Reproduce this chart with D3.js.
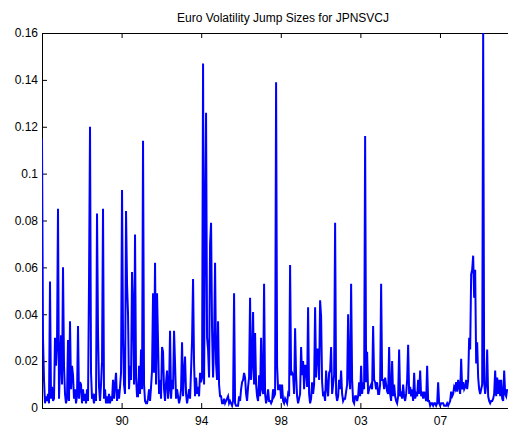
<!DOCTYPE html>
<html>
<head>
<meta charset="utf-8">
<script src="https://cdn.jsdelivr.net/npm/d3@7"></script>
<style>
  body { margin: 0; background: #fff; }
  text { font-family: "Liberation Sans", Arial, sans-serif; }
</style>
</head>
<body>
<div id="chart-area"></div>
<script>
/*
*    jump sizes chart
*/

// series: one value every ~0.0553 years, starting at startYear
var startYear = 1985.6;
var stepYears = 0.0553;
var jumpSizes = [
    0.115, 0.030, 0.012, 0.002, 0.005, 0.003, 0.006, 0.002, 0.054, 0.004,
    0.009, 0.003, 0.004, 0.030, 0.018, 0.027, 0.085, 0.004, 0.018, 0.031,
    0.010, 0.060, 0.018, 0.006, 0.002, 0.004, 0.029, 0.003, 0.037, 0.008,
    0.018, 0.014, 0.004, 0.008, 0.002, 0.005, 0.035, 0.004, 0.011, 0.010,
    0.002, 0.008, 0.003, 0.006, 0.002, 0.008, 0.003, 0.054, 0.120, 0.015,
    0.004, 0.005, 0.002, 0.006, 0.003, 0.083, 0.032, 0.009, 0.003, 0.010,
    0.020, 0.085, 0.004, 0.008, 0.002, 0.005, 0.002, 0.006, 0.002, 0.005,
    0.003, 0.012, 0.004, 0.010, 0.015, 0.003, 0.008, 0.004, 0.009, 0.015,
    0.093, 0.030, 0.010, 0.006, 0.084, 0.053, 0.040, 0.008, 0.018, 0.012,
    0.058, 0.042, 0.010, 0.074, 0.013, 0.005, 0.005, 0.018, 0.006, 0.025,
    0.008, 0.114, 0.010, 0.003, 0.002, 0.002, 0.004, 0.008, 0.003, 0.009,
    0.016, 0.049, 0.015, 0.062, 0.010, 0.049, 0.028, 0.006, 0.012, 0.004,
    0.026, 0.024, 0.008, 0.003, 0.011, 0.016, 0.004, 0.008, 0.033, 0.004,
    0.012, 0.008, 0.033, 0.019, 0.004, 0.008, 0.005, 0.002, 0.004, 0.008,
    0.028, 0.005, 0.015, 0.022, 0.006, 0.002, 0.005, 0.008, 0.004, 0.016,
    0.029, 0.055, 0.019, 0.005, 0.013, 0.006, 0.009, 0.005, 0.015, 0.011,
    0.013, 0.147, 0.010, 0.077, 0.126, 0.030, 0.025, 0.013, 0.070, 0.079,
    0.033, 0.013, 0.028, 0.062, 0.019, 0.012, 0.037, 0.010, 0.005, 0.005,
    0.002, 0.002, 0.004, 0.002, 0.003, 0.004, 0.005, 0.002, 0.003, 0.002,
    0.001, 0.003, 0.049, 0.002, 0.001, 0.001, 0.001, 0.005, 0.003, 0.008,
    0.011, 0.012, 0.015, 0.013, 0.006, 0.003, 0.009, 0.013, 0.047, 0.012,
    0.019, 0.041, 0.010, 0.032, 0.010, 0.005, 0.003, 0.014, 0.005, 0.030,
    0.008, 0.006, 0.053, 0.006, 0.002, 0.004, 0.008, 0.003, 0.003, 0.002,
    0.003, 0.008, 0.005, 0.006, 0.139, 0.018, 0.008, 0.008, 0.010, 0.004,
    0.010, 0.003, 0.002, 0.004, 0.003, 0.002, 0.006, 0.005, 0.061, 0.014,
    0.015, 0.014, 0.006, 0.034, 0.014, 0.005, 0.002, 0.004, 0.006, 0.026,
    0.014, 0.020, 0.008, 0.018, 0.018, 0.009, 0.043, 0.006, 0.002, 0.004,
    0.011, 0.006, 0.010, 0.043, 0.013, 0.025, 0.025, 0.012, 0.046, 0.039,
    0.011, 0.005, 0.006, 0.003, 0.016, 0.009, 0.005, 0.015, 0.016, 0.026,
    0.006, 0.010, 0.014, 0.079, 0.006, 0.003, 0.005, 0.012, 0.008, 0.016,
    0.006, 0.003, 0.004, 0.004, 0.007, 0.010, 0.040, 0.013, 0.008, 0.053,
    0.012, 0.003, 0.002, 0.005, 0.005, 0.003, 0.005, 0.011, 0.005, 0.018,
    0.006, 0.011, 0.008, 0.116, 0.011, 0.024, 0.006, 0.008, 0.009, 0.010,
    0.008, 0.035, 0.012, 0.011, 0.008, 0.011, 0.006, 0.006, 0.010, 0.053,
    0.012, 0.012, 0.008, 0.013, 0.010, 0.007, 0.006, 0.026, 0.006, 0.003,
    0.020, 0.005, 0.010, 0.005, 0.003, 0.002, 0.005, 0.025, 0.005, 0.006,
    0.004, 0.010, 0.005, 0.003, 0.006, 0.012, 0.027, 0.006, 0.009, 0.005,
    0.008, 0.003, 0.015, 0.004, 0.006, 0.005, 0.012, 0.006, 0.016, 0.005,
    0.007, 0.004, 0.007, 0.005, 0.003, 0.018, 0.003, 0.003, 0.001, 0.002,
    0.002, 0.001, 0.002, 0.002, 0.001, 0.002, 0.011, 0.002, 0.001, 0.002,
    0.002, 0.002, 0.001, 0.001, 0.001, 0.002, 0.001, 0.002, 0.003, 0.007,
    0.005, 0.006, 0.009, 0.008, 0.011, 0.007, 0.012, 0.009, 0.006, 0.021,
    0.008, 0.011, 0.008, 0.009, 0.012, 0.008, 0.012, 0.030, 0.025, 0.057,
    0.059, 0.065, 0.047, 0.059, 0.019, 0.028, 0.013, 0.008, 0.006, 0.008,
    0.010, 0.160, 0.011, 0.006, 0.010, 0.025, 0.005, 0.003, 0.002, 0.003,
    0.003, 0.004, 0.006, 0.016, 0.005, 0.013, 0.006, 0.012, 0.005, 0.012,
    0.004, 0.003, 0.016, 0.006, 0.005, 0.008
];

var xTickYears = [1990.0, 1994.4, 1998.8, 2003.2, 2007.6];
var xTickLabels = ['90', '94', '98', '03', '07'];
var yTicks = [0, 0.02, 0.04, 0.06, 0.08, 0.10, 0.12, 0.14, 0.16];
var yTickLabels = ['0', '0.02', '0.04', '0.06', '0.08', '0.1', '0.12', '0.14', '0.16'];

var margin = {top: 33, right: 0, bottom: 23, left: 42};
var width = 482;   // axes run past the right edge of the window
var height = 375;

var data = jumpSizes.map((v, i) => {
    return {t: startYear + i * stepYears, v: v};
});

var svg = d3.select('#chart-area')
    .append('svg')
        .attr('width', 508)
        .attr('height', 431);

svg.append('defs').append('clipPath')
        .attr('id', 'plot-clip')
    .append('rect')
        .attr('x', 0)
        .attr('y', 0)
        .attr('width', width)
        .attr('height', height);

var g = svg.append('g')
    .attr('transform', 'translate(' + margin.left + ', ' + margin.top + ')');

var x = d3.scaleLinear()
    .domain([startYear, startYear + width / 18.09])
    .range([0, width]);

var y = d3.scaleLinear()
    .domain([0, 0.16])
    .range([height, 0]);

// axes: ticks point inwards, like the original plot
var bottomAxis = d3.axisBottom(x)
    .tickValues(xTickYears)
    .tickFormat((d, i) => { return xTickLabels[i]; })
    .tickSizeInner(-5)
    .tickSizeOuter(0)
    .tickPadding(8);

var topAxis = d3.axisTop(x)
    .tickValues(xTickYears)
    .tickFormat('')
    .tickSizeInner(-5)
    .tickSizeOuter(0);

var leftAxis = d3.axisLeft(y)
    .tickValues(yTicks)
    .tickFormat((d, i) => { return yTickLabels[i]; })
    .tickSizeInner(-5)
    .tickSizeOuter(0)
    .tickPadding(4);

g.append('g')
    .attr('class', 'bottom axis')
    .attr('transform', 'translate(0, ' + height + ')')
    .call(bottomAxis);

g.append('g')
    .attr('class', 'top axis')
    .call(topAxis);

g.append('g')
    .attr('class', 'left axis')
    .call(leftAxis);

g.selectAll('.axis text')
    .attr('font-size', '12px')
    .attr('font-family', '"Liberation Sans", Arial, sans-serif')
    .attr('fill', '#000');

g.selectAll('.axis path, .axis line')
    .attr('stroke', '#000');

var line = d3.line()
    .x((d) => { return x(d.t); })
    .y((d) => { return y(d.v); });

g.append('path')
    .datum(data)
    .attr('clip-path', 'url(#plot-clip)')
    .attr('fill', 'none')
    .attr('stroke', '#0000ff')
    .attr('stroke-width', 2)
    .attr('d', line);

g.append('text')
    .attr('class', 'title')
    .attr('x', width / 2)
    .attr('y', -11)
    .attr('font-size', '12px')
    .attr('text-anchor', 'middle')
    .attr('fill', '#000')
    .text('Euro Volatility Jump Sizes for JPNSVCJ');
</script>
</body>
</html>
